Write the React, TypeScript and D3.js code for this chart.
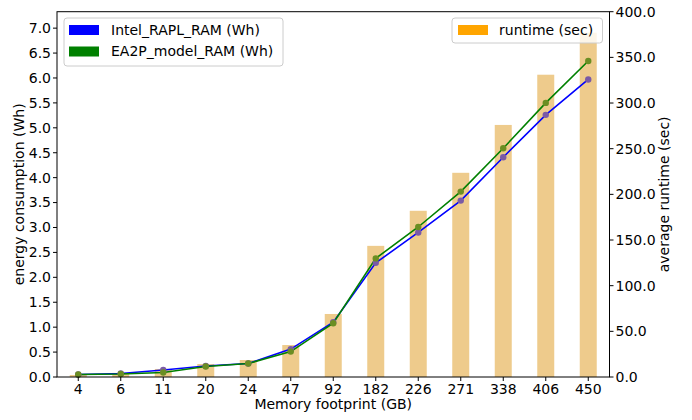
import React from "react";
import * as d3 from "d3";

const categories = ["4", "6", "11", "20", "24", "47", "92", "182", "226", "271", "338", "406", "450"];
const runtimeSec = [2.2, 4.5, 8.8, 14.2, 18.6, 35, 69, 143.6, 182, 223.6, 276, 331, 377];
const intelRaplRam = [0.05, 0.07, 0.14, 0.22, 0.27, 0.56, 1.1, 2.29, 2.9, 3.54, 4.41, 5.26, 5.97];
const ea2pModelRam = [0.05, 0.06, 0.09, 0.21, 0.27, 0.51, 1.08, 2.38, 3.01, 3.72, 4.59, 5.5, 6.34];
const leftTicks = [0, 0.5, 1, 1.5, 2, 2.5, 3, 3.5, 4, 4.5, 5, 5.5, 6, 6.5, 7];
const rightTicks = [0, 50, 100, 150, 200, 250, 300, 350, 400];

const W = 692;
const H = 420;
const L = 57;
const R = 609.5;
const T = 11.7;
const B = 377;
const FONT = "DejaVu Sans, sans-serif";
const FS = 14;

export default function App() {
  const x = d3.scaleBand<string>().domain(categories).range([L, R]).padding(0);
  const yL = d3.scaleLinear().domain([0, 7.33]).range([B, T]);
  const yR = d3.scaleLinear().domain([0, 400]).range([B, T]);
  const bw = x.bandwidth() * 0.4;
  const cx = (c: string) => (x(c) as number) + x.bandwidth() / 2;

  const line = d3
    .line<number>()
    .x((_, i) => cx(categories[i]))
    .y((d) => yL(d));

  return (
    <svg width={W} height={H} style={{ position: "absolute", left: 0, top: 0, background: "#fff" }} fontFamily={FONT}>
      <rect x={0} y={0} width={W} height={H} fill="#fff" />
      {/* bars */}
      {categories.map((c, i) => (
        <rect key={"b" + c} x={cx(c) - bw / 2} y={yR(runtimeSec[i])} width={bw} height={B - yR(runtimeSec[i])} fill="#eecb8c" />
      ))}
      {/* lines */}
      <path d={line(intelRaplRam) || ""} fill="none" stroke="#0000ff" strokeWidth={1.6} />
      <path d={line(ea2pModelRam) || ""} fill="none" stroke="#008000" strokeWidth={1.6} />
      {categories.map((c, i) => (
        <circle key={"mi" + c} cx={cx(c)} cy={yL(intelRaplRam[i])} r={3.2} fill="#7a5aa6" />
      ))}
      {categories.map((c, i) => (
        <circle key={"me" + c} cx={cx(c)} cy={yL(ea2pModelRam[i])} r={3.2} fill="#6b8e23" />
      ))}
      {/* frame */}
      <rect x={L} y={T} width={R - L} height={B - T} fill="none" stroke="#000" strokeWidth={1} />
      {/* left ticks */}
      {leftTicks.map((t) => (
        <g key={"lt" + t}>
          <line x1={L - 4} x2={L} y1={yL(t)} y2={yL(t)} stroke="#000" />
          <text x={L - 6} y={yL(t)} dy="0.35em" textAnchor="end" fontSize={FS}>
            {t.toFixed(1)}
          </text>
        </g>
      ))}
      {/* right ticks */}
      {rightTicks.map((t) => (
        <g key={"rt" + t}>
          <line x1={R} x2={R + 4} y1={yR(t)} y2={yR(t)} stroke="#000" />
          <text x={R + 6} y={yR(t)} dy="0.35em" textAnchor="start" fontSize={FS}>
            {t.toFixed(1)}
          </text>
        </g>
      ))}
      {/* x ticks */}
      {categories.map((c) => (
        <g key={"xt" + c}>
          <line x1={cx(c)} x2={cx(c)} y1={B} y2={B + 4} stroke="#000" />
          <text x={cx(c)} y={B + 6} dy="0.8em" textAnchor="middle" fontSize={FS}>
            {c}
          </text>
        </g>
      ))}
      {/* axis labels */}
      <text x={(L + R) / 2} y={409} textAnchor="middle" fontSize={FS}>
        Memory footprint (GB)
      </text>
      <text transform={`translate(24,${(T + B) / 2}) rotate(-90)`} textAnchor="middle" fontSize={FS}>
        energy consumption (Wh)
      </text>
      <text transform={`translate(669,${(T + B) / 2}) rotate(-90)`} textAnchor="middle" fontSize={FS}>
        average runtime (sec)
      </text>
      {/* left legend */}
      <rect x={64} y={18} width={219} height={48} rx={3} fill="#fff" fillOpacity={0.8} stroke="#cccccc" strokeWidth={1} />
      <rect x={69} y={25} width={30} height={10} fill="#0000ff" />
      <rect x={69} y={46.5} width={30} height={10} fill="#008000" />
      <text x={111} y={30} dy="0.35em" fontSize={FS}>Intel_RAPL_RAM (Wh)</text>
      <text x={111} y={51.5} dy="0.35em" fontSize={FS}>EA2P_model_RAM (Wh)</text>
      {/* right legend */}
      <rect x={452} y={18} width={150.5} height={25} rx={3} fill="#fff" fillOpacity={0.8} stroke="#cccccc" strokeWidth={1} />
      <rect x={458} y={25} width={30} height={10} fill="#ffa500" />
      <text x={499} y={30} dy="0.35em" fontSize={FS}>runtime (sec)</text>
    </svg>
  );
}
